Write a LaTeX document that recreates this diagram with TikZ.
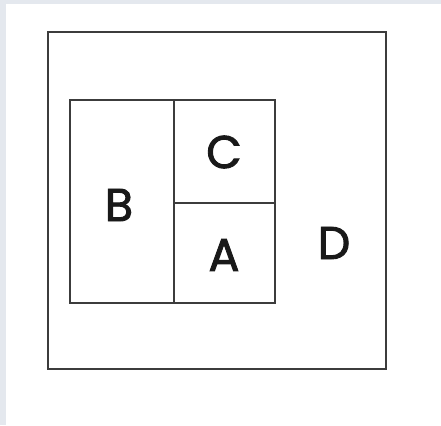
\documentclass[tikz,border=0pt]{standalone}
\usepackage{fontspec}
\setmainfont{Poppins}[RawFeature={embolden=2}]
\definecolor{bgstrip}{RGB}{228,232,238}
\definecolor{linec}{RGB}{60,60,60}
\begin{document}
\begin{tikzpicture}[x=1pt,y=-1pt,
  box/.style={draw=linec,line width=2.8pt},
  lbl/.style={font=\fontsize{46}{46}\selectfont,text=black!90,inner sep=0pt}]
\useasboundingbox (0,0) rectangle (441,425);
\fill[white] (0,0) rectangle (441,425);
\fill[bgstrip] (0,0) rectangle (441,4);
\fill[bgstrip] (0,0) rectangle (6,425);
\draw[box] (48,32) rectangle (386,369);
\draw[box] (70,100) rectangle (275,303);
\draw[box] (174,100) -- (174,303);
\draw[box] (174,203) -- (275,203);
\node[lbl] (B) at (119,205) {B};
\node[lbl] (C) at (224,152) {C};
\node[lbl] (A) at (224,255) {A};
\node[lbl] (D) at (334,243) {D};
\end{tikzpicture}
\end{document}
